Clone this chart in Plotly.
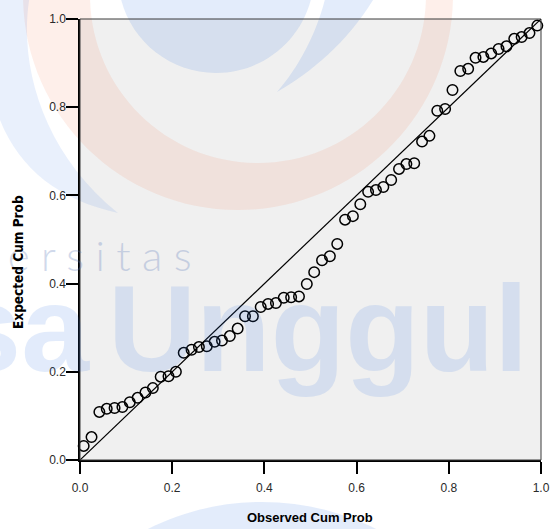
import plotly.graph_objects as go

# ---------------- data ----------------
observed_cum_prob = [0.008, 0.025, 0.042, 0.058, 0.075, 0.092, 0.108, 0.125, 0.142, 0.158,
                     0.175, 0.192, 0.208, 0.225, 0.242, 0.258, 0.275, 0.292, 0.308, 0.325,
                     0.342, 0.358, 0.375, 0.392, 0.408, 0.425, 0.442, 0.458, 0.475, 0.492,
                     0.508, 0.525, 0.542, 0.558, 0.575, 0.592, 0.608, 0.625, 0.642, 0.658,
                     0.675, 0.692, 0.708, 0.725, 0.742, 0.758, 0.775, 0.792, 0.808, 0.825,
                     0.842, 0.858, 0.875, 0.892, 0.908, 0.925, 0.942, 0.958, 0.975, 0.992]
expected_cum_prob = [0.032, 0.052, 0.109, 0.116, 0.118, 0.120, 0.131, 0.141, 0.153, 0.163,
                     0.189, 0.190, 0.200, 0.243, 0.250, 0.256, 0.258, 0.268, 0.271, 0.281,
                     0.298, 0.326, 0.326, 0.347, 0.354, 0.356, 0.368, 0.369, 0.371, 0.399,
                     0.426, 0.453, 0.462, 0.490, 0.545, 0.553, 0.580, 0.608, 0.612, 0.619,
                     0.635, 0.660, 0.671, 0.673, 0.722, 0.735, 0.792, 0.796, 0.839, 0.882,
                     0.887, 0.912, 0.914, 0.922, 0.932, 0.938, 0.955, 0.959, 0.968, 0.985]
diag_x = [0.0, 1.0]
diag_y = [0.0, 1.0]
tick_vals = [0.0, 0.2, 0.4, 0.6, 0.8, 1.0]
tick_text = ["0.0", "0.2", "0.4", "0.6", "0.8", "1.0"]
x_title = "Observed Cum Prob"
y_title = "Expected Cum Prob"

# ---------------- layout geometry ----------------
W, H = 550, 529
ML, MR, MT, MB = 80, 9, 19, 69
PW, PH = W - ML - MR, H - MT - MB


def px(x):
    return (x - ML) / PW


def py(y):
    return (H - MB - y) / PH


def pt(x, y):
    return f"{px(x):.4f},{py(y):.4f}"


K = 0.5523


def circle_path(cx, cy, r, ccw=False):
    pts = [(cx + r, cy), (cx, cy + r), (cx - r, cy), (cx, cy - r)]
    if ccw:
        pts = pts[::-1]
    s = "M " + pt(*pts[0])
    for i in range(4):
        a = pts[i]
        b = pts[(i + 1) % 4]
        ax, ay = a[0] - cx, a[1] - cy
        bx, by = b[0] - cx, b[1] - cy
        sgn = -1 if ccw else 1
        c1 = (a[0] - sgn * ay * K, a[1] + sgn * ax * K)
        c2 = (b[0] + sgn * by * K, b[1] - sgn * bx * K)
        s += " C " + pt(*c1) + " " + pt(*c2) + " " + pt(*b)
    return s + " Z"


BLUE = "rgb(40,110,225)"
ORANGE = "rgb(240,80,20)"
WM_OP = 0.13

shapes = [
    # orange crescent (annulus)
    dict(type="path", xref="paper", yref="paper", layer="below",
         path=circle_path(238, -5, 215) + " " + circle_path(258, -5, 168, ccw=True),
         fillcolor=ORANGE, opacity=0.09, line=dict(width=0)),
    # blue disc at top
    dict(type="path", xref="paper", yref="paper", layer="below",
         path=circle_path(216, -25, 98),
         fillcolor=BLUE, opacity=WM_OP, line=dict(width=0)),
    # blue swoosh
    dict(type="path", xref="paper", yref="paper", layer="below",
         path="M " + pt(277, 92) + " C " + pt(300, 66) + " " + pt(318, 30) + " " + pt(326, -5)
              + " L " + pt(376, -5) + " C " + pt(350, 40) + " " + pt(312, 72) + " " + pt(277, 92) + " Z",
         fillcolor=BLUE, opacity=WM_OP, line=dict(width=0)),
    # left blue band
    dict(type="path", xref="paper", yref="paper", layer="below",
         path="M " + pt(0, -5) + " L " + pt(30, -5) + " C " + pt(18, 60) + " " + pt(40, 150) + " " + pt(118, 213)
              + " C " + pt(60, 200) + " " + pt(20, 170) + " " + pt(0, 120) + " Z",
         fillcolor=BLUE, opacity=0.1, line=dict(width=0)),
    # bottom blue arc
    dict(type="path", xref="paper", yref="paper", layer="below",
         path=circle_path(262, 756, 254),
         fillcolor=BLUE, opacity=WM_OP, line=dict(width=0)),
    # plot border (top/right)
    dict(type="rect", xref="paper", yref="paper", x0=0, y0=0, x1=1, y1=1,
         line=dict(color="#3a3a3a", width=1), layer="above"),
]

annotations = [
    dict(text="Unggul", x=px(106), y=py(372), xref="paper", yref="paper",
         xanchor="left", yanchor="bottom", showarrow=False, opacity=WM_OP,
         font=dict(family="Liberation Sans, Arial", size=122, color=BLUE, weight="bold"),
         yshift=-27),
    dict(text="Esa", x=px(92), y=py(372), xref="paper", yref="paper",
         xanchor="right", yanchor="bottom", showarrow=False, opacity=WM_OP,
         font=dict(family="Liberation Sans, Arial", size=122, color=BLUE, weight="bold"),
         yshift=-27),
    dict(text="U n i v e r s i t a s", x=px(194), y=py(272), xref="paper", yref="paper",
         xanchor="right", yanchor="bottom", showarrow=False, opacity=0.28,
         font=dict(family="Lato, Liberation Sans", size=42, color="rgb(90,120,185)", weight=300),
         yshift=-10),
    dict(text=y_title, x=px(18), y=py(262), xref="paper", yref="paper", textangle=-90,
         showarrow=False, xanchor="center", yanchor="middle",
         font=dict(family="DejaVu Sans Condensed, Liberation Sans Narrow, Arial Narrow, sans-serif",
                   size=13.5, color="#000000", weight="bold")),
    dict(text=x_title, x=px(310), y=py(517), xref="paper", yref="paper",
         showarrow=False, xanchor="center", yanchor="middle",
         font=dict(family="Liberation Sans, Arial, sans-serif", size=13, color="#000000", weight="bold")),
]

fig = go.Figure()
fig.add_trace(go.Scatter(x=diag_x, y=diag_y, mode="lines",
                         line=dict(color="#000000", width=1.2), hoverinfo="skip",
                         showlegend=False))
fig.add_trace(go.Scatter(x=observed_cum_prob, y=expected_cum_prob, mode="markers",
                         marker=dict(symbol="circle-open", size=10.5,
                                     color="#000000", line=dict(color="#000000", width=1.5)),
                         cliponaxis=False, showlegend=False))

axis_common = dict(range=[0, 1], tickvals=tick_vals, ticktext=tick_text, automargin=False,
                   showgrid=False, zeroline=False, showline=True, linecolor="#000000",
                   linewidth=1.5, ticks="outside", ticklen=12, tickwidth=1.5,
                   tickcolor="#000000",
                   tickfont=dict(family="Liberation Sans, Arial, sans-serif", size=12, color="#2a2a2a"))

fig.update_layout(
    width=W, height=H, autosize=False,
    margin=dict(l=ML, r=MR, t=MT, b=MB, pad=0, autoexpand=False),
    paper_bgcolor="#ffffff",
    plot_bgcolor="#f0f0f0",
    xaxis=dict(**axis_common, ticklabelstandoff=4),
    yaxis=dict(**axis_common, ticklabelstandoff=-2),
    shapes=shapes,
    annotations=annotations,
    showlegend=False,
)

fig.write_html("out.html", config={"responsive": False, "displayModeBar": False},
               post_script="document.body.style.margin='0';document.body.style.overflow='hidden';")
